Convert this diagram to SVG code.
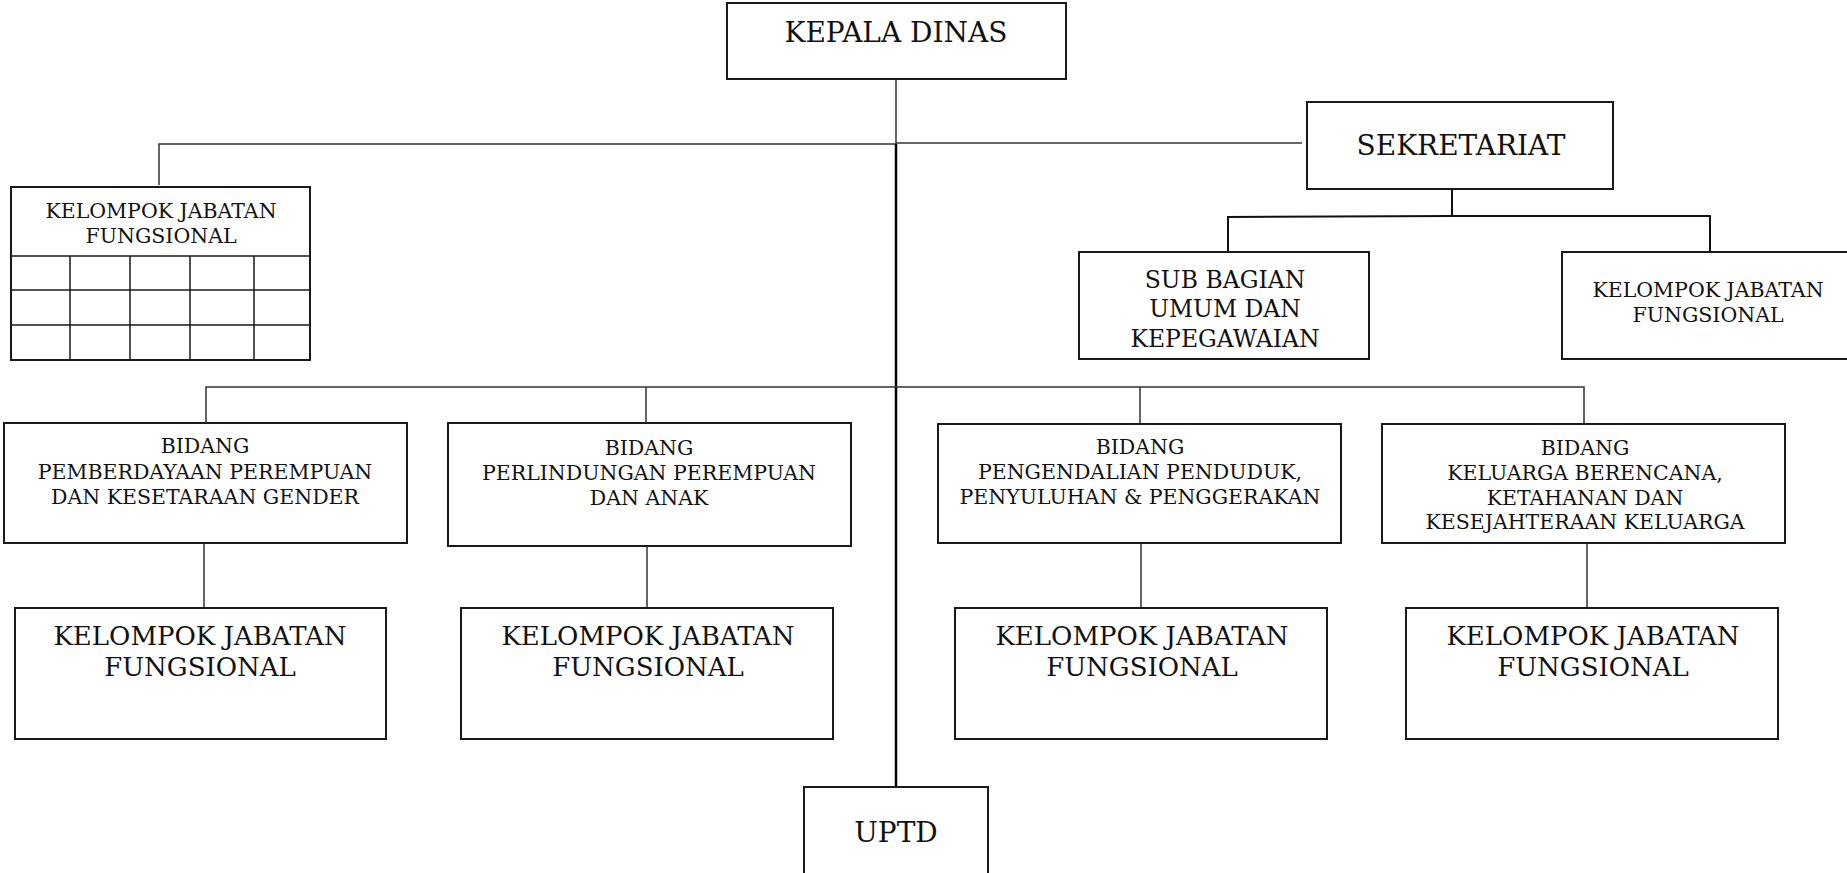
<svg xmlns="http://www.w3.org/2000/svg" width="1847" height="873" viewBox="0 0 1847 873">
<style>
.box{fill:#fff;stroke:#1a1a1a;stroke-width:2}
.grid{stroke:#1a1a1a;stroke-width:1.5;fill:none}
.ln{stroke:#333;stroke-width:1.5;fill:none}
.ln2{stroke:#111;stroke-width:2;fill:none}
.main{stroke:#000;stroke-width:2.5;fill:none}
text{font-family:"DejaVu Serif","Liberation Serif",serif;fill:#111;text-anchor:middle}
.t28{font-size:28px}
.t26{font-size:26px}
.t23{font-size:23.5px}
.t21{font-size:20.5px}
</style>
<rect width="1847" height="873" fill="#fff"/>
<g id="connectors">
<path class="ln" d="M896 79V144"/>
<path class="ln" d="M159 185V144H896"/>
<path class="ln" d="M896 143H1302"/>
<path class="main" d="M896 144V787"/>
<path class="ln2" d="M1452 189V216"/>
<path class="ln2" d="M1228 252V217L1452 216H1710V252"/>
<path class="ln" d="M206 423V387H1584V424"/>
<path class="ln" d="M646 387V423"/>
<path class="ln" d="M1140 387V424"/>
<path class="ln" d="M204 543V608"/>
<path class="ln" d="M647 546V608"/>
<path class="ln" d="M1141 543V608"/>
<path class="ln" d="M1587 543V608"/>
</g>
<g id="kepala-dinas">
<rect class="box" x="727" y="3" width="339" height="76"/>
<text class="t28" x="896" y="42">KEPALA DINAS</text>
</g>
<g id="sekretariat">
<rect class="box" x="1307" y="102" width="306" height="87"/>
<text class="t28" x="1461" y="155">SEKRETARIAT</text>
</g>
<g id="kjf-kiri">
<rect class="box" x="11" y="187" width="299" height="173"/>
<path class="grid" d="M11 256H310M11 290H310M11 325H310M70 256V360M130 256V360M190 256V360M254 256V360"/>
<text class="t21" x="161" y="218">KELOMPOK JABATAN</text>
<text class="t21" x="161" y="243">FUNGSIONAL</text>
</g>
<g id="sub-bagian">
<rect class="box" x="1079" y="252" width="290" height="107"/>
<text class="t23" x="1225" y="288">SUB BAGIAN</text>
<text class="t23" x="1225" y="317">UMUM DAN</text>
<text class="t23" x="1225" y="347">KEPEGAWAIAN</text>
</g>
<g id="kjf-sekretariat">
<rect class="box" x="1562" y="252" width="300" height="107"/>
<text class="t21" x="1708" y="297">KELOMPOK JABATAN</text>
<text class="t21" x="1708" y="322">FUNGSIONAL</text>
</g>
<g id="bidang-1">
<rect class="box" x="4" y="423" width="403" height="120"/>
<text class="t21" x="205" y="453">BIDANG</text>
<text class="t21" x="205" y="479">PEMBERDAYAAN PEREMPUAN</text>
<text class="t21" x="205" y="504">DAN KESETARAAN GENDER</text>
</g>
<g id="bidang-2">
<rect class="box" x="448" y="423" width="403" height="123"/>
<text class="t21" x="649" y="455">BIDANG</text>
<text class="t21" x="649" y="480">PERLINDUNGAN PEREMPUAN</text>
<text class="t21" x="649" y="505">DAN ANAK</text>
</g>
<g id="bidang-3">
<rect class="box" x="938" y="424" width="403" height="119"/>
<text class="t21" x="1140" y="454">BIDANG</text>
<text class="t21" x="1140" y="479">PENGENDALIAN PENDUDUK,</text>
<text class="t21" x="1140" y="504">PENYULUHAN &amp; PENGGERAKAN</text>
</g>
<g id="bidang-4">
<rect class="box" x="1382" y="424" width="403" height="119"/>
<text class="t21" x="1585" y="455">BIDANG</text>
<text class="t21" x="1585" y="480">KELUARGA BERENCANA,</text>
<text class="t21" x="1585" y="505">KETAHANAN DAN</text>
<text class="t21" x="1585" y="529">KESEJAHTERAAN KELUARGA</text>
</g>
<g id="kjf-1">
<rect class="box" x="15" y="608" width="371" height="131"/>
<text class="t26" x="200" y="645">KELOMPOK JABATAN</text>
<text class="t26" x="200" y="676">FUNGSIONAL</text>
</g>
<g id="kjf-2">
<rect class="box" x="461" y="608" width="372" height="131"/>
<text class="t26" x="648" y="645">KELOMPOK JABATAN</text>
<text class="t26" x="648" y="676">FUNGSIONAL</text>
</g>
<g id="kjf-3">
<rect class="box" x="955" y="608" width="372" height="131"/>
<text class="t26" x="1142" y="645">KELOMPOK JABATAN</text>
<text class="t26" x="1142" y="676">FUNGSIONAL</text>
</g>
<g id="kjf-4">
<rect class="box" x="1406" y="608" width="372" height="131"/>
<text class="t26" x="1593" y="645">KELOMPOK JABATAN</text>
<text class="t26" x="1593" y="676">FUNGSIONAL</text>
</g>
<g id="uptd">
<rect class="box" x="804" y="787" width="184" height="100"/>
<text class="t28" x="896" y="842">UPTD</text>
</g>
</svg>
